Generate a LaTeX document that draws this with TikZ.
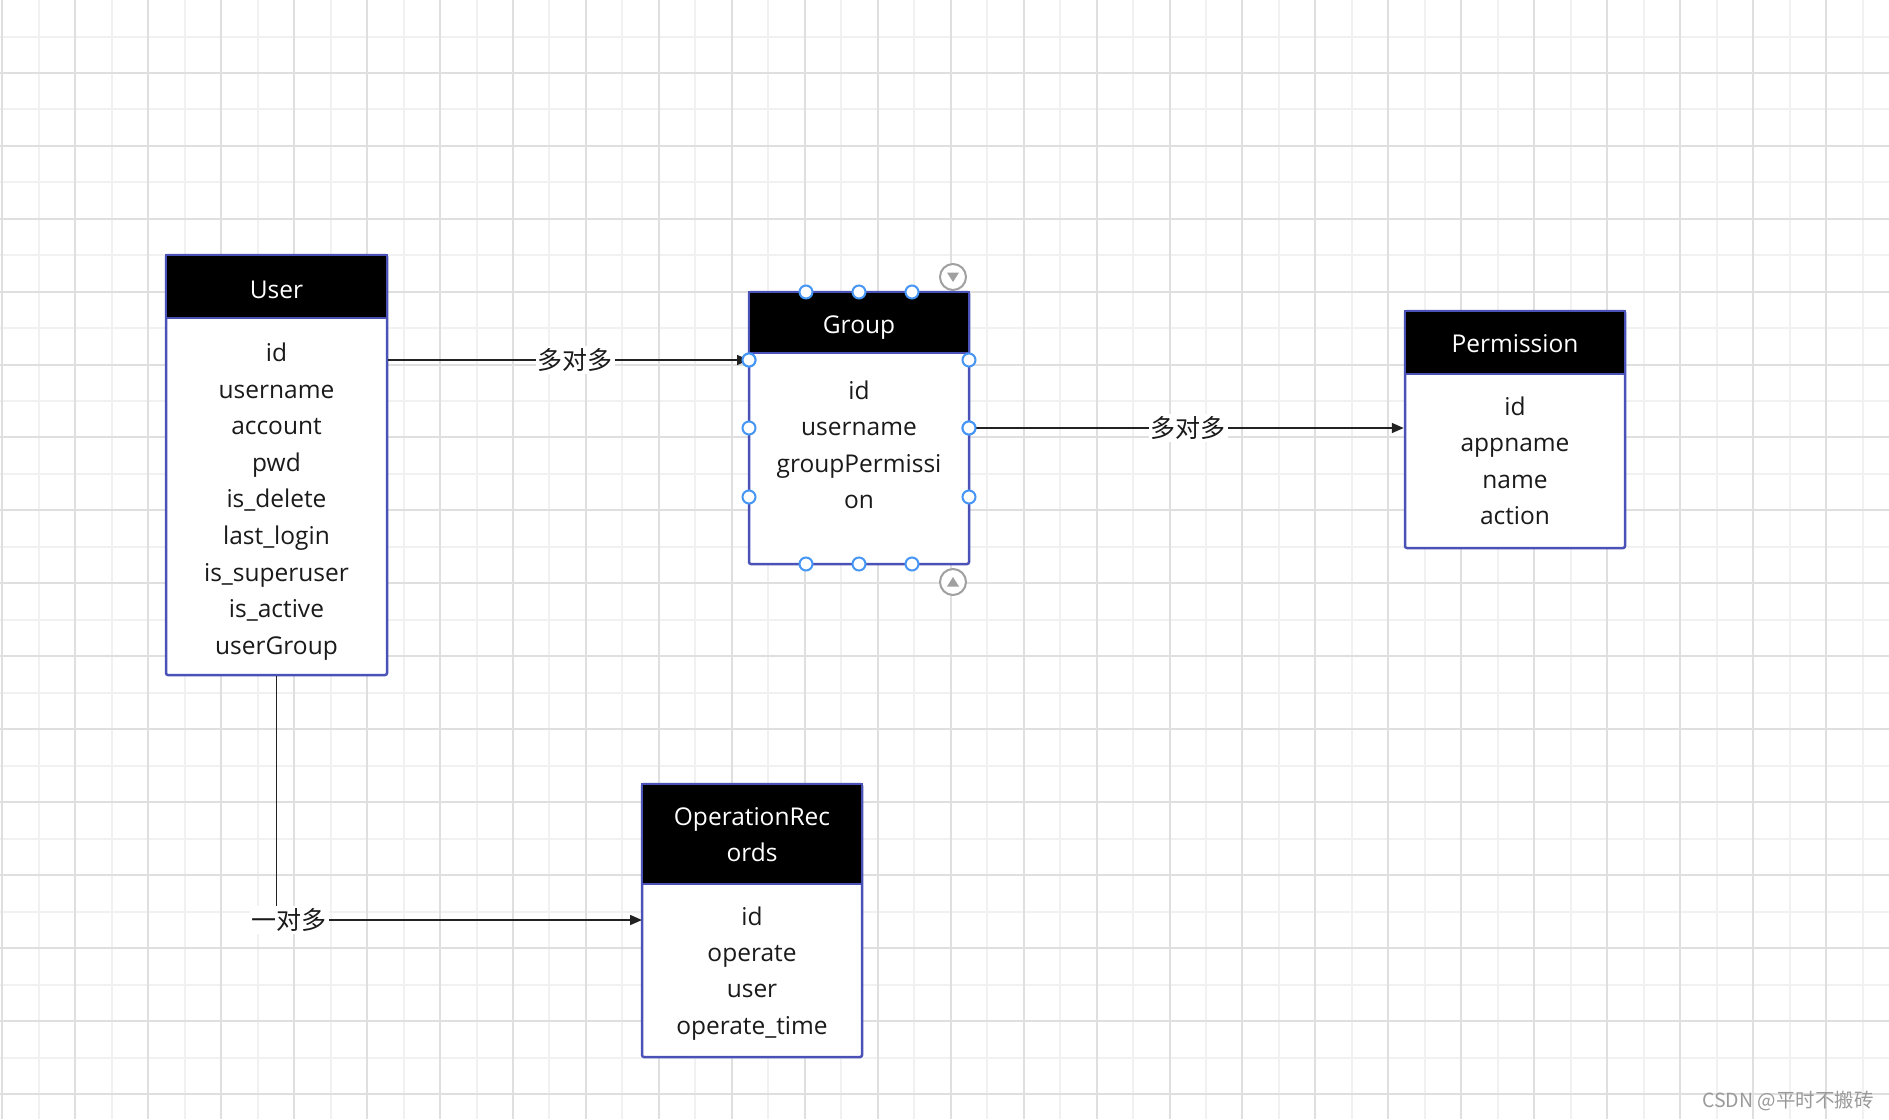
\documentclass[tikz,border=0pt]{standalone}
\usepackage{fontspec}
\setmainfont{Open Sans}
\newfontfamily\cjkfont{Noto Sans CJK SC}
\usetikzlibrary{arrows.meta,calc}
\definecolor{boxblue}{HTML}{4A52B8}
\definecolor{handleblue}{HTML}{4596F5}
\definecolor{gridmaj}{HTML}{DFDFDF}
\definecolor{gridmin}{HTML}{F1F1F1}
\definecolor{iconGray}{HTML}{A0A0A0}
\definecolor{wmgray}{HTML}{9A9A9A}
\definecolor{lineblack}{HTML}{222222}
\definecolor{txt}{HTML}{1A1A1A}
\begin{document}
\begin{tikzpicture}[x=1pt,y=-1pt,
  gmaj/.style={draw=gridmaj, line width=2pt},
  gmin/.style={draw=gridmin, line width=2pt},
  frame/.style={draw=boxblue, line width=2.5pt, fill=white, rounded corners=2pt, inner sep=0pt, minimum width=221pt},
  hdr/.style={draw=boxblue, line width=2.5pt, fill=black, inner sep=0pt, minimum width=221pt, anchor=north},
  htext/.style={text=white, font=\fontsize{24.5}{36}\selectfont, anchor=base, inner sep=0pt},
  ftext/.style={text=txt, font=\fontsize{24.5}{36}\selectfont, anchor=base, inner sep=0pt},
  conn/.style={draw=lineblack, line width=1.6pt, -{Triangle[length=12pt,width=10pt]}},
  rel/.style={fill=white, text=txt, font=\cjkfont\fontsize{25}{25}\selectfont, inner sep=2pt},
  handle/.style={circle, draw=handleblue, fill=white, line width=2pt, minimum size=13pt, inner sep=0pt},
  icon/.style={circle, draw=iconGray, line width=2pt, minimum size=26pt, inner sep=0pt, fill=white},
]
\useasboundingbox (0,0) rectangle (1889,1119);
\fill[white] (0,0) rectangle (1889,1119);
% grid
\foreach \k in {0,...,25} { \draw[gmin] ({38.8+72.95*\k},0) -- ++(0,1119); }
\foreach \k in {0,...,14} { \draw[gmin] (0,{36.5+72.95*\k}) -- ++(1889,0); }
\foreach \k in {0,...,25} { \draw[gmaj] ({2.3+72.95*\k},0) -- ++(0,1119); }
\foreach \k in {1,...,15} { \draw[gmaj] (0,{72.95*\k-0.25}) -- ++(1889,0); }

% boxes
\node[frame, minimum height=420pt] (user) at (276.5,465) {};
\node[hdr, minimum height=63pt] (userh) at (user.north) {};
\node[htext] (usert) at (276.5,298) {User};
\foreach \t [count=\i] in {id,username,account,pwd,is\_delete,last\_login,is\_superuser,is\_active,userGroup}
  \node[ftext] (uf\i) at (276.5,{361.5+(\i-1)*36.6}) {\t};

\node[frame, minimum width=220pt, minimum height=272pt] (group) at (859,428) {};
\node[hdr, minimum width=220pt, minimum height=61pt] (grouph) at (group.north) {};
\node[htext] (groupt) at (859,333) {Group};
\foreach \t [count=\i] in {id,username,groupPermissi,on}
  \node[ftext] (gf\i) at (859,{399+(\i-1)*36.5}) {\t};

\node[frame, minimum width=220pt, minimum height=237pt] (perm) at (1515,429.5) {};
\node[hdr, minimum width=220pt, minimum height=63pt] (permh) at (perm.north) {};
\node[htext] (permt) at (1515,352.5) {Permission};
\foreach \t [count=\i] in {id,appname,name,action}
  \node[ftext] (pf\i) at (1515,{415+(\i-1)*36.5}) {\t};

\node[frame, minimum width=220pt, minimum height=273pt] (oper) at (752,920.5) {};
\node[hdr, minimum width=220pt, minimum height=100pt] (operh) at (oper.north) {};
\node[htext] (opert1) at (752,825) {OperationRec};
\node[htext] (opert2) at (752,861) {ords};
\foreach \t [count=\i] in {id,operate,user,operate\_time}
  \node[ftext] (of\i) at (752,{925+(\i-1)*36.4}) {\t};

% selection handles on Group
\node[handle] (gT1) at (806,292) {};
\node[handle] (gT2) at (859,292) {};
\node[handle] (gT3) at (912,292) {};
\node[handle] (gB1) at (806,564) {};
\node[handle] (gB2) at (859,564) {};
\node[handle] (gB3) at (912,564) {};
\node[handle] (gL1) at (749,360) {};
\node[handle] (gL2) at (749,428) {};
\node[handle] (gL3) at (749,497) {};
\node[handle] (gR1) at (969,360) {};
\node[handle] (gR2) at (969,428) {};
\node[handle] (gR3) at (969,497) {};

% connectors
\coordinate (opin) at (642,920);
\draw[conn] (gL1 -| user.east) -- (gL1.center);
\draw[conn] (gR2.center) -- (gR2 -| perm.west);
\draw[conn] (user.south) |- (opin);
\node[rel] (r1) at (575,360) {多对多};
\node[rel] (r2) at (1188,428) {多对多};
\node[rel] (r3) at (289,920) {一对多};
% redraw handles over arrow ends
\node[handle] at (gL1) {};
\node[handle] at (gR2) {};

% collapse icons
\node[icon] (iconTop) at (953,277) {};
\fill[iconGray] ($(iconTop)+(-6,-4.5)$) -- ($(iconTop)+(6,-4.5)$) -- ($(iconTop)+(0,5)$) -- cycle;
\node[icon] (iconBot) at (953,582) {};
\fill[iconGray] ($(iconBot)+(-6,4.5)$) -- ($(iconBot)+(6,4.5)$) -- ($(iconBot)+(0,-5)$) -- cycle;

% watermark
\node[anchor=base east, text=wmgray, inner sep=0pt, font=\cjkfont\fontsize{19.5}{19.5}\selectfont] (wm) at (1874,1107) {CSDN @平时不搬砖};
\end{tikzpicture}
\end{document}
